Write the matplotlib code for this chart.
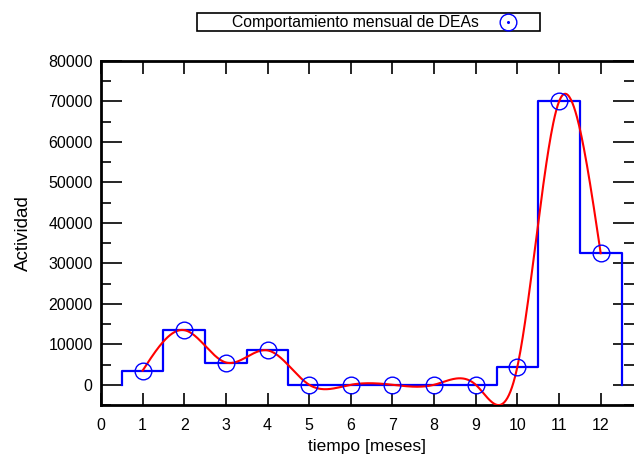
import numpy as np
import matplotlib
matplotlib.use("Agg")
import matplotlib.pyplot as plt
from matplotlib.ticker import MultipleLocator
from matplotlib.patches import Rectangle
from matplotlib.lines import Line2D

plt.rcParams['font.family'] = ['Liberation Sans', 'DejaVu Sans']

# Monthly activity data
meses = np.array([1, 2, 3, 4, 5, 6, 7, 8, 9, 10, 11, 12], dtype=float)
actividad = np.array([3500, 13500, 5500, 8500, 0, 0, 0, 0, 0, 4500, 70000, 32500], dtype=float)
xticks = list(range(0, 13))
yticks = list(range(0, 80001, 10000))
titulo_serie = 'Comportamiento mensual de DEAs'

W, H = 634, 457


def natural_cubic_spline(x, y, xs):
    n = len(x)
    h = np.diff(x)
    A = np.zeros((n, n))
    b = np.zeros(n)
    A[0, 0] = 1.0
    A[-1, -1] = 1.0
    for i in range(1, n - 1):
        A[i, i - 1] = h[i - 1]
        A[i, i] = 2 * (h[i - 1] + h[i])
        A[i, i + 1] = h[i]
        b[i] = 6 * ((y[i + 1] - y[i]) / h[i] - (y[i] - y[i - 1]) / h[i - 1])
    M = np.linalg.solve(A, b)
    idx = np.clip(np.searchsorted(x, xs) - 1, 0, n - 2)
    x0, x1 = x[idx], x[idx + 1]
    y0, y1 = y[idx], y[idx + 1]
    M0, M1 = M[idx], M[idx + 1]
    hh = x1 - x0
    t0 = x1 - xs
    t1 = xs - x0
    return (M0 * t0**3 / (6 * hh) + M1 * t1**3 / (6 * hh)
            + (y0 / hh - M0 * hh / 6) * t0 + (y1 / hh - M1 * hh / 6) * t1)


fig = plt.figure(figsize=(W / 100, H / 100), dpi=100)
ax = fig.add_axes([101 / W, 1 - 405 / H, 533 / W, 344 / H])

# histogram-style steps centred on each month, closed down to zero at both ends
sx = np.concatenate([[meses[0] - 0.5], meses - 0.5, [meses[-1] + 0.5], [meses[-1] + 0.5]])
sy = np.concatenate([[0], actividad, [actividad[-1]], [0]])
ax.step(sx, sy, where='post', color='#0000ff', lw=1.6, zorder=2)

# smooth interpolating curve
xs = np.linspace(meses[0], meses[-1], 600)
ax.plot(xs, natural_cubic_spline(meses, actividad, xs), color='#ff0000', lw=1.5, zorder=3)

# data points
ax.plot(meses, actividad, linestyle='none', marker='o', markersize=12,
        markerfacecolor='none', markeredgecolor='#0000ff', markeredgewidth=1.0,
        zorder=4)

ax.set_xlim(0, 12.8)
ax.set_ylim(-5000, 80000)
ax.set_xticks(xticks)
ax.set_yticks(yticks)
ax.yaxis.set_minor_locator(MultipleLocator(5000))
ax.tick_params(axis='x', which='major', direction='in', length=9, width=1.2,
               top=True, bottom=True, labelsize=11.5, pad=9)
ax.tick_params(axis='y', which='major', direction='in', length=15, width=1.2,
               left=True, right=True, labelsize=11.5, pad=6)
ax.tick_params(axis='y', which='minor', direction='in', length=7, width=1.2,
               left=True, right=True)
for s in ['left', 'top', 'bottom']:
    ax.spines[s].set_linewidth(2)
ax.spines['right'].set_visible(False)

ax.set_xlabel('tiempo [meses]', fontsize=12.5, labelpad=5)
ax.set_ylabel('Actividad', fontsize=13.5, labelpad=12)

# key box at the top with the series title and its symbol
fig.patches.append(Rectangle((197 / W, 1 - 31 / H), 343 / W, 18 / H,
                             transform=fig.transFigure, facecolor='white',
                             edgecolor='black', linewidth=1.2))
fig.text(232 / W, 1 - 22.5 / H, titulo_serie, fontsize=11.3, ha='left', va='center')
fig.lines.append(Line2D([508 / W], [1 - 22 / H], transform=fig.transFigure,
                        linestyle='none', marker='o', markersize=12,
                        markerfacecolor='none', markeredgecolor='#0000ff',
                        markeredgewidth=1.0))
fig.lines.append(Line2D([508 / W], [1 - 22 / H], transform=fig.transFigure,
                        linestyle='none', marker='o', markersize=1.2,
                        markerfacecolor='#0000ff', markeredgecolor='#0000ff'))

fig.savefig('out.png', dpi=100)
